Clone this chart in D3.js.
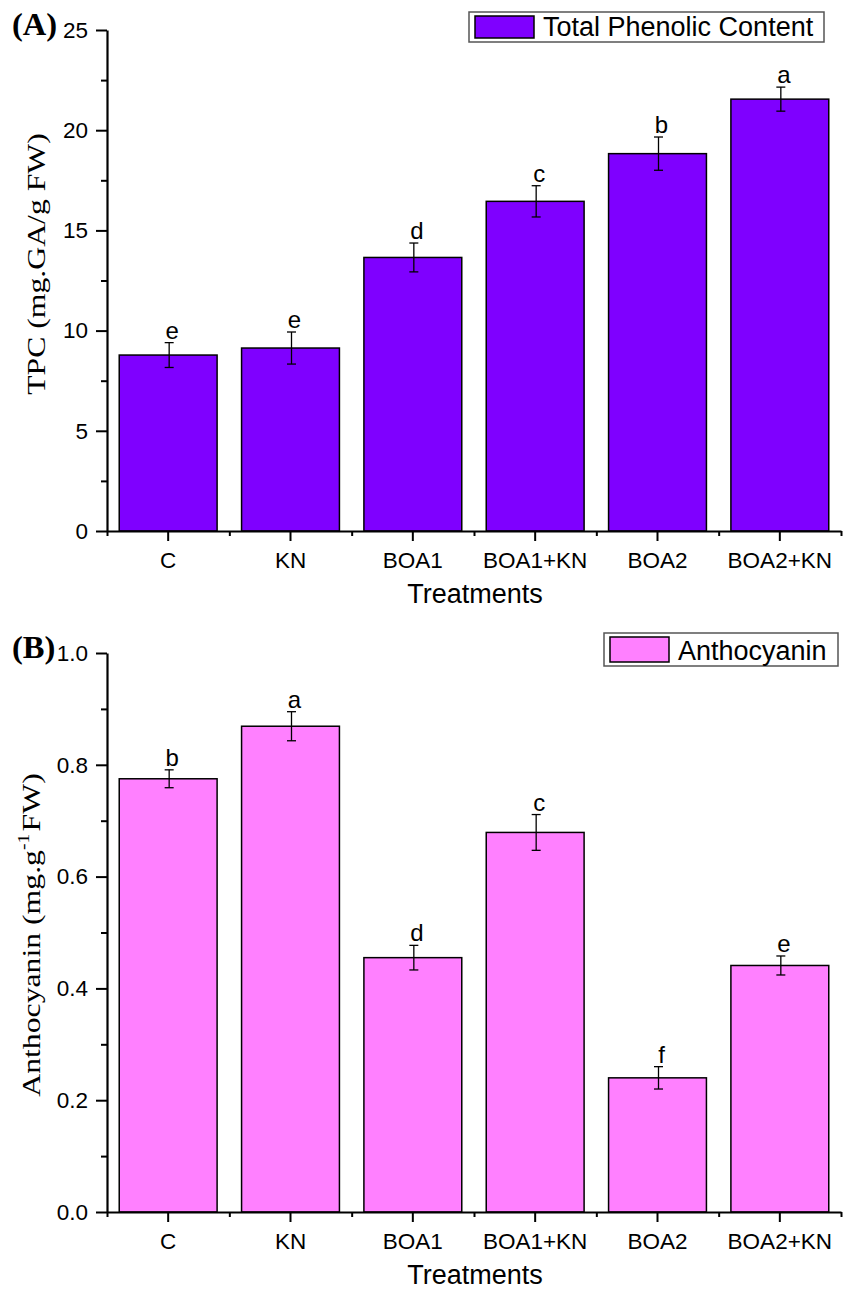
<!DOCTYPE html>
<html>
<head>
<meta charset="utf-8">
<script src="https://cdn.jsdelivr.net/npm/d3@7/dist/d3.min.js"></script>
<style>
  html, body { margin: 0; padding: 0; background: #fff; }
  svg { display: block; }
</style>
</head>
<body>
<svg id="chart" width="846" height="1295"></svg>
<script>
// Treatments shared by both panels
const categories = ["C", "KN", "BOA1", "BOA1+KN", "BOA2", "BOA2+KN"];

// (A) Total phenolic content, mg GA / g FW
const tpcMeans   = [8.78, 9.13, 13.65, 16.45, 18.83, 21.55];
const tpcErrors  = [0.62, 0.80, 0.72, 0.78, 0.83, 0.60];
const tpcLetters = ["e", "e", "d", "c", "b", "a"];
const tpcTicks   = [0, 5, 10, 15, 20, 25];

// (B) Anthocyanin, mg g-1 FW
const anthoMeans   = [0.775, 0.869, 0.455, 0.679, 0.240, 0.441];
const anthoErrors  = [0.016, 0.026, 0.022, 0.032, 0.020, 0.017];
const anthoLetters = ["b", "a", "d", "c", "f", "e"];
const anthoTicks   = [0, 0.2, 0.4, 0.6, 0.8, 1.0];

const svg = d3.select("#chart");
const SANS = "Arial, 'Liberation Sans', Helvetica, sans-serif";
const SERIF = "'Times New Roman', 'Liberation Serif', serif";

function drawPanel(opts) {
  const { means, errors, letters, ticks, top, bottom, color, panelLabel,
          yLabelParts, yLabelCenter, yLabelX, legendText, legendBox, fmt } = opts;
  const left = 107, right = 841;
  const g = svg.append("g");

  const x = d3.scaleBand().domain(categories).range([left, right])
    .paddingInner(0.2).paddingOuter(0.1);
  const xEdges = d3.scaleLinear().domain([0, categories.length]).range([left, right]);
  const yMax = ticks[ticks.length - 1];
  const y = d3.scaleLinear().domain([0, yMax]).range([bottom, top]);

  const rows = categories.map((c, i) => ({ c, m: means[i], e: errors[i], l: letters[i] }));
  const cx = d => x(d.c) + x.bandwidth() / 2 + 1;

  // bars
  g.selectAll("rect.bar").data(rows).join("rect")
    .attr("class", "bar")
    .attr("x", d => x(d.c))
    .attr("y", d => y(d.m))
    .attr("width", x.bandwidth())
    .attr("height", d => y(0) - y(d.m))
    .attr("fill", color)
    .attr("stroke", "#000")
    .attr("stroke-width", 1.5);

  // error bars
  const cap = 4.5;
  const eb = g.selectAll("g.err").data(rows).join("g").attr("class", "err")
    .attr("stroke", "#000").attr("stroke-width", 1.3);
  eb.append("line")
    .attr("x1", cx).attr("x2", cx)
    .attr("y1", d => y(d.m + d.e)).attr("y2", d => y(d.m - d.e));
  eb.append("line")
    .attr("x1", d => cx(d) - cap).attr("x2", d => cx(d) + cap)
    .attr("y1", d => y(d.m + d.e)).attr("y2", d => y(d.m + d.e));
  eb.append("line")
    .attr("x1", d => cx(d) - cap).attr("x2", d => cx(d) + cap)
    .attr("y1", d => y(d.m - d.e)).attr("y2", d => y(d.m - d.e));

  // significance letters
  g.selectAll("text.sig").data(rows).join("text")
    .attr("class", "sig")
    .attr("x", d => cx(d) + 3)
    .attr("y", d => y(d.m + d.e) - 4)
    .attr("text-anchor", "middle")
    .attr("font-family", SANS)
    .attr("font-size", 24)
    .text(d => d.l);

  // y axis: major + minor ticks
  const minorY = d3.range(0, ticks.length - 1).map(i => (ticks[i] + ticks[i + 1]) / 2);
  const yAxis = g.append("g").attr("transform", `translate(${left},0)`)
    .call(d3.axisLeft(y).tickValues(ticks).tickFormat(fmt).tickSize(11).tickSizeOuter(0).tickPadding(8));
  g.append("g").attr("transform", `translate(${left},0)`)
    .call(d3.axisLeft(y).tickValues(minorY).tickFormat("").tickSize(6).tickSizeOuter(0))
    .select(".domain").remove();

  // x axis: category ticks + boundary ticks
  const xAxis = g.append("g").attr("transform", `translate(0,${bottom})`)
    .call(d3.axisBottom(x).tickSize(10).tickSizeOuter(0).tickPadding(11));
  g.append("g").attr("transform", `translate(0,${bottom})`)
    .call(d3.axisBottom(xEdges).tickValues(d3.range(0, categories.length + 1)).tickFormat("").tickSize(5).tickSizeOuter(0))
    .select(".domain").remove();

  [yAxis, xAxis].forEach(a => a.select(".domain").attr("stroke-width", 2.2));
  g.selectAll(".tick line").attr("stroke-width", 2);
  yAxis.selectAll("text").attr("font-family", SANS).attr("font-size", 22.5).attr("fill", "#000");
  xAxis.selectAll("text").attr("font-family", SANS).attr("font-size", 22.5).attr("fill", "#000");

  // x axis title
  g.append("text")
    .attr("x", (left + right) / 2 + 1)
    .attr("y", bottom + 72)
    .attr("text-anchor", "middle")
    .attr("font-family", SANS)
    .attr("font-size", 27)
    .text("Treatments");

  // y axis title (serif, slightly widened)
  const yl = g.append("text")
    .attr("transform", `translate(${yLabelX},${yLabelCenter}) rotate(-90) scale(1.22,1)`)
    .attr("text-anchor", "middle")
    .attr("font-family", SERIF)
    .attr("font-size", 26);
  yLabelParts.forEach(p => {
    const t = yl.append("tspan").text(p.text);
    if (p.sup) t.attr("font-size", 16).attr("dy", -11);
    if (p.after) t.attr("dy", 11).attr("dx", 2);
  });

  // panel label
  g.append("text")
    .attr("transform", `translate(12,${top + 5}) scale(1.05,1)`)
    .attr("font-family", SERIF)
    .attr("font-weight", "bold")
    .attr("font-size", 31)
    .text(panelLabel);

  // legend
  const lb = legendBox;
  g.append("rect")
    .attr("x", lb.x).attr("y", lb.y).attr("width", lb.w).attr("height", lb.h)
    .attr("fill", "#fff").attr("stroke", "#555").attr("stroke-width", 1.5);
  g.append("rect")
    .attr("x", lb.x + 6).attr("y", lb.y + 4).attr("width", 59).attr("height", lb.h - 8)
    .attr("fill", color).attr("stroke", "#000").attr("stroke-width", 1.5);
  g.append("text")
    .attr("x", lb.x + 74).attr("y", lb.y + lb.h - 6)
    .attr("font-family", SANS)
    .attr("font-size", 27)
    .text(legendText);
}

drawPanel({
  means: tpcMeans, errors: tpcErrors, letters: tpcLetters, ticks: tpcTicks,
  top: 30, bottom: 531, color: "#7f00ff", panelLabel: "(A)",
  yLabelParts: [{ text: "TPC (mg.GA/g FW)" }],
  yLabelCenter: 264, yLabelX: 45,
  legendText: "Total Phenolic Content",
  legendBox: { x: 469, y: 12, w: 355, h: 30 },
  fmt: d3.format("d")
});

drawPanel({
  means: anthoMeans, errors: anthoErrors, letters: anthoLetters, ticks: anthoTicks,
  top: 653, bottom: 1212, color: "#ff80ff", panelLabel: "(B)",
  yLabelParts: [{ text: "Anthocyanin (mg.g" }, { text: "-1", sup: true }, { text: "FW)", after: true }],
  yLabelCenter: 935, yLabelX: 40,
  legendText: "Anthocyanin",
  legendBox: { x: 604, y: 633, w: 234, h: 33 },
  fmt: d3.format(".1f")
});
</script>
</body>
</html>
